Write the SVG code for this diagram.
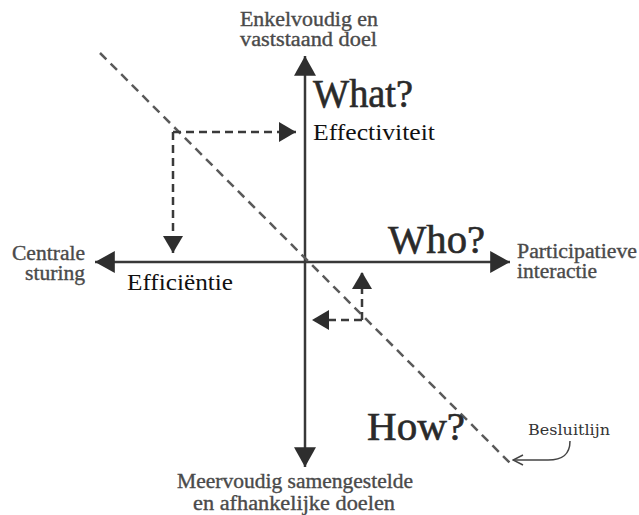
<svg xmlns="http://www.w3.org/2000/svg" width="639" height="515" viewBox="0 0 639 515">
<defs>
<style>
.axis{stroke:#383838;stroke-width:2.5;fill:none}
.dash{stroke:#3a3a3a;stroke-width:2.5;fill:none;stroke-dasharray:8 5}
.diag{stroke:#5a5a5a;stroke-width:2.5;fill:none;stroke-dasharray:9 6}
.lbl{font-family:"Liberation Serif","Times New Roman",serif;font-size:20px;fill:#4a4a4a;stroke:#4a4a4a;stroke-width:0.35}
.big{font-family:"Liberation Serif","Times New Roman",serif;font-size:40px;fill:#2a2a2a;stroke:#2a2a2a;stroke-width:0.6}
.mid{font-family:"Liberation Serif","Times New Roman",serif;font-size:24px;fill:#111}
.small{font-family:"DejaVu Serif",serif;font-size:15px;fill:#333}
</style>
<marker id="ah" markerUnits="userSpaceOnUse" markerWidth="20" markerHeight="22" viewBox="0 0 18 20" refX="18" refY="10" orient="auto">
<path d="M0,0 L18,10 L0,20 Z" fill="#2e2e2e"/>
</marker>
<marker id="dh" markerUnits="userSpaceOnUse" markerWidth="18" markerHeight="20" viewBox="0 0 17 20" refX="17" refY="10" orient="auto">
<path d="M0,0 L17,10 L0,20 Z" fill="#2e2e2e"/>
</marker>
<marker id="oh" markerUnits="userSpaceOnUse" markerWidth="12" markerHeight="12" viewBox="0 0 12 12" refX="11" refY="6" orient="auto">
<path d="M1,1 L11,6 L1,11" fill="none" stroke="#444" stroke-width="1.5"/>
</marker>
</defs>
<rect width="639" height="515" fill="#fff"/>
<g id="connectors">
<line class="axis" x1="305" y1="262" x2="305" y2="56" marker-end="url(#ah)"/>
<line class="axis" x1="305" y1="262" x2="305" y2="467" marker-end="url(#ah)"/>
<line class="axis" x1="305" y1="262" x2="95" y2="262" marker-end="url(#ah)"/>
<line class="axis" x1="305" y1="262" x2="510" y2="262" marker-end="url(#ah)"/>
<line class="diag" x1="100" y1="53" x2="510" y2="463"/>
<line class="dash" x1="173" y1="132" x2="296" y2="132" marker-end="url(#dh)"/>
<line class="dash" x1="173" y1="132" x2="173" y2="253" marker-end="url(#dh)"/>
<line class="dash" x1="362" y1="320" x2="362" y2="272" marker-end="url(#dh)"/>
<line class="dash" x1="362" y1="320" x2="312" y2="320" marker-end="url(#dh)"/>
<path d="M570,441 C570,455 562,460 548,460 L513,460" fill="none" stroke="#444" stroke-width="1.5" marker-end="url(#oh)"/>
</g>
<g id="top-label">
<text class="lbl" x="240" y="26" textLength="138" lengthAdjust="spacingAndGlyphs">Enkelvoudig en</text>
<text class="lbl" x="240" y="46" textLength="137" lengthAdjust="spacingAndGlyphs">vaststaand doel</text>
</g>
<g id="left-label">
<text class="lbl" x="12" y="260" textLength="73" lengthAdjust="spacingAndGlyphs">Centrale</text>
<text class="lbl" x="25" y="280" textLength="60" lengthAdjust="spacingAndGlyphs">sturing</text>
</g>
<g id="right-label">
<text class="lbl" x="517" y="258" textLength="120" lengthAdjust="spacingAndGlyphs">Participatieve</text>
<text class="lbl" x="517" y="278" textLength="80" lengthAdjust="spacingAndGlyphs">interactie</text>
</g>
<g id="bottom-label">
<text class="lbl" x="177" y="488" textLength="236" lengthAdjust="spacingAndGlyphs">Meervoudig samengestelde</text>
<text class="lbl" x="193" y="510" textLength="202" lengthAdjust="spacingAndGlyphs">en afhankelijke doelen</text>
</g>
<g id="what">
<text class="big" x="313" y="107" textLength="100" lengthAdjust="spacingAndGlyphs">What?</text>
</g>
<g id="who">
<text class="big" x="388" y="253" textLength="97" lengthAdjust="spacingAndGlyphs">Who?</text>
</g>
<g id="how">
<text class="big" x="367" y="440" textLength="98" lengthAdjust="spacingAndGlyphs">How?</text>
</g>
<g id="effectiviteit">
<text class="mid" x="313" y="140" textLength="122" lengthAdjust="spacingAndGlyphs">Effectiviteit</text>
</g>
<g id="efficientie">
<text class="mid" x="127" y="290" textLength="106" lengthAdjust="spacingAndGlyphs">Efficiëntie</text>
</g>
<g id="besluitlijn">
<text class="small" x="528" y="435" textLength="82" lengthAdjust="spacingAndGlyphs">Besluitlijn</text>
</g>
</svg>
